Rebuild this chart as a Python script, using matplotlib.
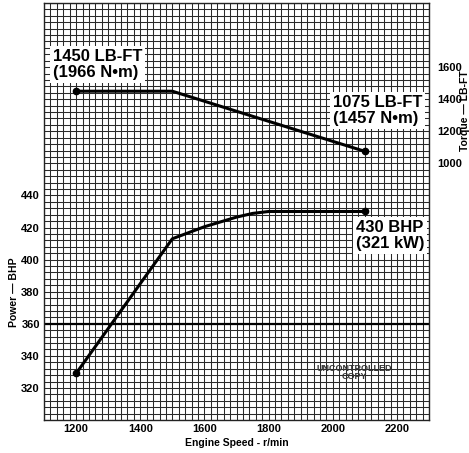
import matplotlib
matplotlib.use("Agg")
import matplotlib.pyplot as plt
import numpy as np

plt.rcParams['font.family'] = ['Liberation Sans', 'DejaVu Sans']

# data
speed_power = [1200, 1500, 1600, 1700, 1750, 1800, 2100]
power_bhp = [329, 413, 420.5, 426.5, 428.8, 430, 430]
speed_torque = [1200, 1500, 2100]
torque_lbft = [1450, 1450, 1075]
x_ticks = [1200, 1400, 1600, 1800, 2000, 2200]
power_ticks = [320, 340, 360, 380, 400, 420, 440]
torque_ticks = [1000, 1200, 1400, 1600]

fig = plt.figure(figsize=(4.69, 4.53), dpi=100)
ax = fig.add_axes([44/469, 33/453, 385/469, 417/453])
ax.set_xlim(1100, 2300)
ax.set_ylim(300, 560)
ax.set_xticks(x_ticks)
ax.set_xticks(np.arange(1100, 2301, 20), minor=True)
ax.set_yticks(power_ticks)
ax.set_yticks(np.arange(300, 561, 4), minor=True)
ax.grid(which='both', color='#2a2a2a', linewidth=0.75)
ax.set_axisbelow(True)
ax.tick_params(which='both', length=0)
ax.tick_params(axis='x', pad=3)
ax.tick_params(axis='y', pad=3)
for lab in ax.get_xticklabels() + ax.get_yticklabels():
    lab.set_fontsize(8)
    lab.set_fontweight('bold')
for s in ax.spines.values():
    s.set_linewidth(1.0)
    s.set_color('#222222')
ax.axhline(360, color='black', linewidth=1.6, zorder=2)

ax.plot(speed_power, power_bhp, color='black', linewidth=2.2, zorder=3)
ax.plot([speed_power[0], speed_power[-1]], [power_bhp[0], power_bhp[-1]], 'o',
        color='black', markersize=4.5, zorder=4)

ax.set_xlabel('Engine Speed - r/min', fontsize=7.5, fontweight='bold', labelpad=3)
ax.set_ylabel('Power — BHP', fontsize=7.5, fontweight='bold')
ax.yaxis.set_label_coords(-0.066, 0.307)

ax2 = ax.twinx()
ax2.set_ylim(-600, 2000)
ax2.set_yticks(torque_ticks)
ax2.tick_params(length=0, pad=6)
for lab in ax2.get_yticklabels():
    lab.set_fontsize(8)
    lab.set_fontweight('bold')
for s in ax2.spines.values():
    s.set_visible(False)
ax2.set_ylabel('Torque — LB-FT', fontsize=7.5, fontweight='bold')
ax2.yaxis.set_label_coords(1.08, 0.743)
ax2.plot(speed_torque, torque_lbft, color='black', linewidth=2.2, zorder=3)
ax2.plot([speed_torque[0], speed_torque[-1]], [torque_lbft[0], torque_lbft[-1]], 'o',
         color='black', markersize=4.5, zorder=4)

box = dict(facecolor='white', edgecolor='none', boxstyle='square,pad=0.18')
ax2.text(1128, 1715, '1450 LB-FT\n(1966 N•m)', ha='left', va='top', fontsize=12,
         fontweight='bold', bbox=box, linespacing=1.1, zorder=5)
ax2.text(2000, 1425, '1075 LB-FT\n(1457 N•m)', ha='left', va='top', fontsize=12,
         fontweight='bold', bbox=box, linespacing=1.1, zorder=5)
ax2.text(2072, 650, '430 BHP\n(321 kW)', ha='left', va='top', fontsize=12,
         fontweight='bold', bbox=box, linespacing=1.1, zorder=5)
ax.text(2066, 329.4, 'UNCONTROLLED\nCOPY', ha='center', va='center', fontsize=6.5,
        fontweight='bold', color='#333333', linespacing=0.9, zorder=5)

fig.savefig('out.png', dpi=100)
